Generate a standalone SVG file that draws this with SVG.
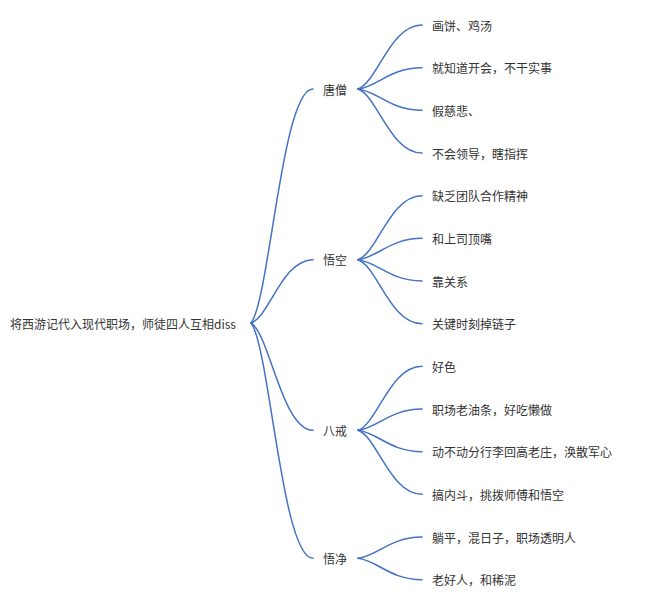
<svg xmlns="http://www.w3.org/2000/svg" width="659" height="604" viewBox="0 0 659 604">
<style>
.t{font-family:"Noto Sans CJK SC","Liberation Sans",sans-serif;font-size:12px;fill:#333333;dominant-baseline:central}
.c{fill:none;stroke:#4472C4;stroke-width:1.5;stroke-linecap:round}
</style>
<rect width="659" height="604" fill="#ffffff"/>
<g id="connectors">
<path class="c" d="M251,323 C269.6,299.6 282,89 313,89"/>
<path class="c" d="M251,323 C269.6,316.7 282,259.7 313,259.7"/>
<path class="c" d="M251,323 C269.6,333.7 282,430.3 313,430.3"/>
<path class="c" d="M251,323 C269.6,346.5 282,558.3 313,558.3"/>
<path class="c" d="M358,89 C377.2,82.6 390,25 422,25"/>
<path class="c" d="M358,89 C377.2,86.9 390,67.7 422,67.7"/>
<path class="c" d="M358,89 C377.2,91.1 390,110.3 422,110.3"/>
<path class="c" d="M358,89 C377.2,95.4 390,153 422,153"/>
<path class="c" d="M358,259.7 C377.2,253.3 390,195.7 422,195.7"/>
<path class="c" d="M358,259.7 C377.2,257.6 390,238.3 422,238.3"/>
<path class="c" d="M358,259.7 C377.2,261.8 390,281 422,281"/>
<path class="c" d="M358,259.7 C377.2,266.1 390,323.7 422,323.7"/>
<path class="c" d="M358,430.3 C377.2,423.9 390,366.3 422,366.3"/>
<path class="c" d="M358,430.3 C377.2,428.2 390,409 422,409"/>
<path class="c" d="M358,430.3 C377.2,432.4 390,451.7 422,451.7"/>
<path class="c" d="M358,430.3 C377.2,436.7 390,494.3 422,494.3"/>
<path class="c" d="M358,558.3 C377.2,556.2 390,537 422,537"/>
<path class="c" d="M358,558.3 C377.2,560.4 390,579.7 422,579.7"/>
</g>
<g id="root"><text class="t" x="10" y="323">将西游记代入现代职场，师徒四人互相diss</text></g>
<g id="n-tangseng"><text class="t" x="323" y="89">唐僧</text></g>
<g id="n-wukong"><text class="t" x="323" y="259.7">悟空</text></g>
<g id="n-bajie"><text class="t" x="323" y="430.3">八戒</text></g>
<g id="n-wujing"><text class="t" x="323" y="558.3">悟净</text></g>
<g id="l1"><text class="t" x="432" y="25">画饼、鸡汤</text></g>
<g id="l2"><text class="t" x="432" y="67.7">就知道开会，不干实事</text></g>
<g id="l3"><text class="t" x="432" y="110.3">假慈悲、</text></g>
<g id="l4"><text class="t" x="432" y="153">不会领导，瞎指挥</text></g>
<g id="l5"><text class="t" x="432" y="195.7">缺乏团队合作精神</text></g>
<g id="l6"><text class="t" x="432" y="238.3">和上司顶嘴</text></g>
<g id="l7"><text class="t" x="432" y="281">靠关系</text></g>
<g id="l8"><text class="t" x="432" y="323.7">关键时刻掉链子</text></g>
<g id="l9"><text class="t" x="432" y="366.3">好色</text></g>
<g id="l10"><text class="t" x="432" y="409">职场老油条，好吃懒做</text></g>
<g id="l11"><text class="t" x="432" y="451.7">动不动分行李回高老庄，涣散军心</text></g>
<g id="l12"><text class="t" x="432" y="494.3">搞内斗，挑拨师傅和悟空</text></g>
<g id="l13"><text class="t" x="432" y="537">躺平，混日子，职场透明人</text></g>
<g id="l14"><text class="t" x="432" y="579.7">老好人，和稀泥</text></g>
</svg>
